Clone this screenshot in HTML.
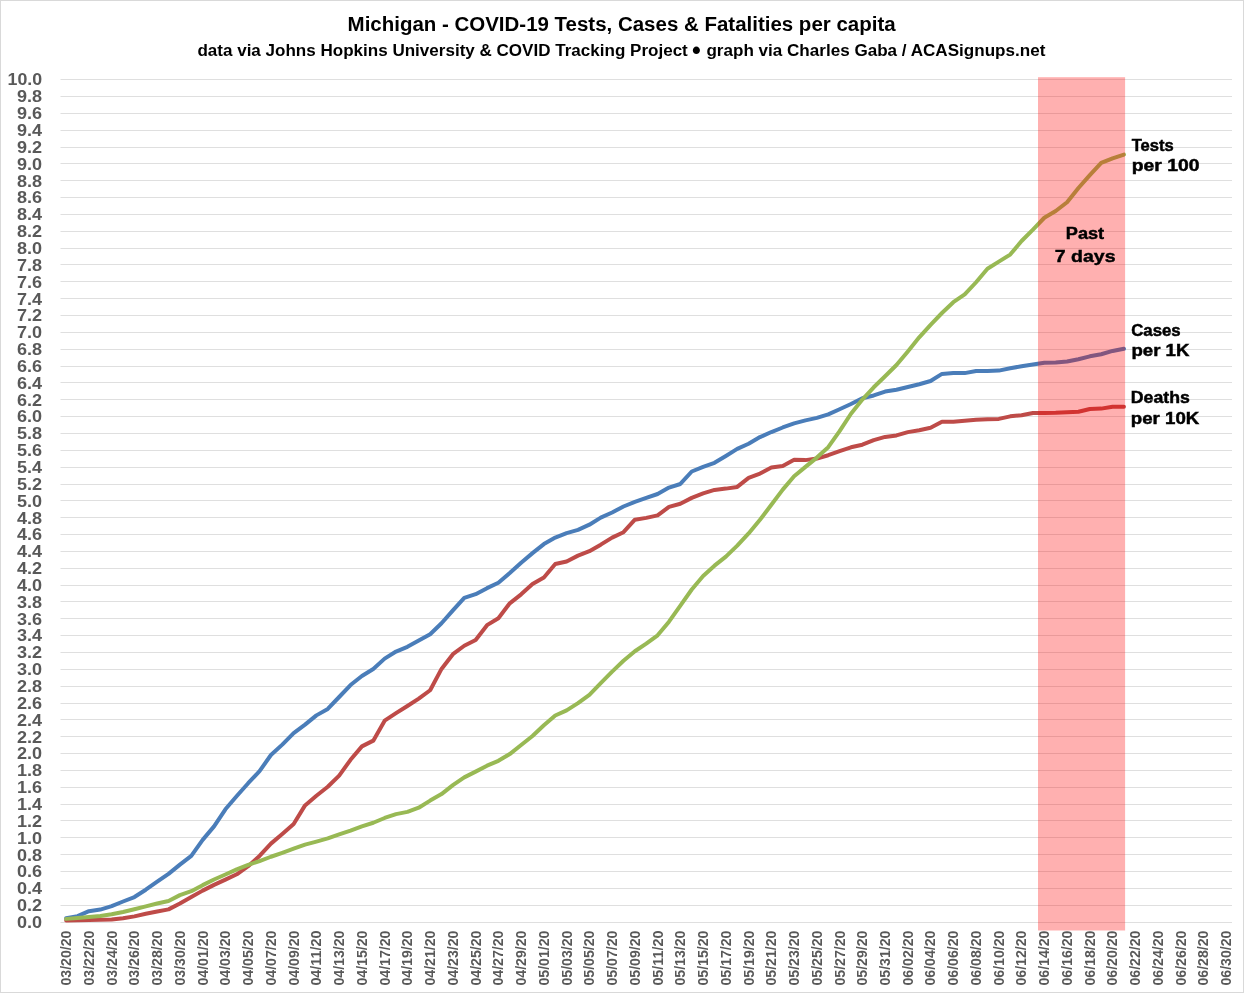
<!DOCTYPE html>
<html lang="en"><head><meta charset="utf-8">
<title>Michigan - COVID-19 Tests, Cases &amp; Fatalities per capita</title>
<style>
html,body{margin:0;padding:0;background:#fff;}
body{width:1244px;height:993px;overflow:hidden;}
svg{display:block;}
text{font-family:"Liberation Sans", sans-serif;font-weight:bold;}
.ax{fill:#595959;}
.grid line{stroke:#dfdfdf;stroke-width:1;}
.ser{fill:none;stroke-width:4.0;stroke-linejoin:round;stroke-linecap:round;}
.lbl{fill:#000;}
.hv{stroke:#000;stroke-width:0.45;}
</style></head><body>
<svg width="1244" height="993" viewBox="0 0 1244 993">
<rect x="0" y="0" width="1244" height="993" fill="#ffffff"/>
<rect x="0.5" y="0.5" width="1243" height="992" fill="none" stroke="#d9d9d9" stroke-width="1"/>
<text class="lbl" x="347.6" y="31.2" font-size="19.6" text-anchor="start" textLength="548.0" lengthAdjust="spacingAndGlyphs">Michigan - COVID-19 Tests, Cases &amp; Fatalities per capita</text>
<text class="lbl" x="197.4" y="55.5" font-size="17.4" text-anchor="start" textLength="490.4" lengthAdjust="spacingAndGlyphs">data via Johns Hopkins University &amp; COVID Tracking Project</text>
<text class="lbl" x="696.5" y="58.6" font-size="25" text-anchor="middle">•</text>
<text class="lbl" x="706.4" y="55.5" font-size="17.4" text-anchor="start" textLength="339.0" lengthAdjust="spacingAndGlyphs">graph via Charles Gaba / ACASignups.net</text>
<g class="grid">
<line x1="60.5" x2="1232.0" y1="922.5" y2="922.5"/>
<line x1="60.5" x2="1232.0" y1="905.5" y2="905.5"/>
<line x1="60.5" x2="1232.0" y1="888.5" y2="888.5"/>
<line x1="60.5" x2="1232.0" y1="871.5" y2="871.5"/>
<line x1="60.5" x2="1232.0" y1="854.5" y2="854.5"/>
<line x1="60.5" x2="1232.0" y1="837.5" y2="837.5"/>
<line x1="60.5" x2="1232.0" y1="820.5" y2="820.5"/>
<line x1="60.5" x2="1232.0" y1="804.5" y2="804.5"/>
<line x1="60.5" x2="1232.0" y1="787.5" y2="787.5"/>
<line x1="60.5" x2="1232.0" y1="770.5" y2="770.5"/>
<line x1="60.5" x2="1232.0" y1="753.5" y2="753.5"/>
<line x1="60.5" x2="1232.0" y1="736.5" y2="736.5"/>
<line x1="60.5" x2="1232.0" y1="719.5" y2="719.5"/>
<line x1="60.5" x2="1232.0" y1="703.5" y2="703.5"/>
<line x1="60.5" x2="1232.0" y1="686.5" y2="686.5"/>
<line x1="60.5" x2="1232.0" y1="669.5" y2="669.5"/>
<line x1="60.5" x2="1232.0" y1="652.5" y2="652.5"/>
<line x1="60.5" x2="1232.0" y1="635.5" y2="635.5"/>
<line x1="60.5" x2="1232.0" y1="618.5" y2="618.5"/>
<line x1="60.5" x2="1232.0" y1="601.5" y2="601.5"/>
<line x1="60.5" x2="1232.0" y1="585.5" y2="585.5"/>
<line x1="60.5" x2="1232.0" y1="568.5" y2="568.5"/>
<line x1="60.5" x2="1232.0" y1="551.5" y2="551.5"/>
<line x1="60.5" x2="1232.0" y1="534.5" y2="534.5"/>
<line x1="60.5" x2="1232.0" y1="517.5" y2="517.5"/>
<line x1="60.5" x2="1232.0" y1="500.5" y2="500.5"/>
<line x1="60.5" x2="1232.0" y1="484.5" y2="484.5"/>
<line x1="60.5" x2="1232.0" y1="467.5" y2="467.5"/>
<line x1="60.5" x2="1232.0" y1="450.5" y2="450.5"/>
<line x1="60.5" x2="1232.0" y1="433.5" y2="433.5"/>
<line x1="60.5" x2="1232.0" y1="416.5" y2="416.5"/>
<line x1="60.5" x2="1232.0" y1="399.5" y2="399.5"/>
<line x1="60.5" x2="1232.0" y1="382.5" y2="382.5"/>
<line x1="60.5" x2="1232.0" y1="366.5" y2="366.5"/>
<line x1="60.5" x2="1232.0" y1="349.5" y2="349.5"/>
<line x1="60.5" x2="1232.0" y1="332.5" y2="332.5"/>
<line x1="60.5" x2="1232.0" y1="315.5" y2="315.5"/>
<line x1="60.5" x2="1232.0" y1="298.5" y2="298.5"/>
<line x1="60.5" x2="1232.0" y1="281.5" y2="281.5"/>
<line x1="60.5" x2="1232.0" y1="264.5" y2="264.5"/>
<line x1="60.5" x2="1232.0" y1="248.5" y2="248.5"/>
<line x1="60.5" x2="1232.0" y1="231.5" y2="231.5"/>
<line x1="60.5" x2="1232.0" y1="214.5" y2="214.5"/>
<line x1="60.5" x2="1232.0" y1="197.5" y2="197.5"/>
<line x1="60.5" x2="1232.0" y1="180.5" y2="180.5"/>
<line x1="60.5" x2="1232.0" y1="163.5" y2="163.5"/>
<line x1="60.5" x2="1232.0" y1="147.5" y2="147.5"/>
<line x1="60.5" x2="1232.0" y1="130.5" y2="130.5"/>
<line x1="60.5" x2="1232.0" y1="113.5" y2="113.5"/>
<line x1="60.5" x2="1232.0" y1="96.5" y2="96.5"/>
<line x1="60.5" x2="1232.0" y1="79.5" y2="79.5"/>
</g>
<g class="ylab">
<text class="ax" x="42.1" y="927.8" font-size="17.1" text-anchor="end" textLength="25.1" lengthAdjust="spacingAndGlyphs">0.0</text>
<text class="ax" x="42.1" y="911.0" font-size="17.1" text-anchor="end" textLength="25.1" lengthAdjust="spacingAndGlyphs">0.2</text>
<text class="ax" x="42.1" y="894.2" font-size="17.1" text-anchor="end" textLength="25.1" lengthAdjust="spacingAndGlyphs">0.4</text>
<text class="ax" x="42.1" y="877.3" font-size="17.1" text-anchor="end" textLength="25.1" lengthAdjust="spacingAndGlyphs">0.6</text>
<text class="ax" x="42.1" y="860.5" font-size="17.1" text-anchor="end" textLength="25.1" lengthAdjust="spacingAndGlyphs">0.8</text>
<text class="ax" x="42.1" y="843.6" font-size="17.1" text-anchor="end" textLength="25.1" lengthAdjust="spacingAndGlyphs">1.0</text>
<text class="ax" x="42.1" y="826.8" font-size="17.1" text-anchor="end" textLength="25.1" lengthAdjust="spacingAndGlyphs">1.2</text>
<text class="ax" x="42.1" y="809.9" font-size="17.1" text-anchor="end" textLength="25.1" lengthAdjust="spacingAndGlyphs">1.4</text>
<text class="ax" x="42.1" y="793.1" font-size="17.1" text-anchor="end" textLength="25.1" lengthAdjust="spacingAndGlyphs">1.6</text>
<text class="ax" x="42.1" y="776.2" font-size="17.1" text-anchor="end" textLength="25.1" lengthAdjust="spacingAndGlyphs">1.8</text>
<text class="ax" x="42.1" y="759.4" font-size="17.1" text-anchor="end" textLength="25.1" lengthAdjust="spacingAndGlyphs">2.0</text>
<text class="ax" x="42.1" y="742.5" font-size="17.1" text-anchor="end" textLength="25.1" lengthAdjust="spacingAndGlyphs">2.2</text>
<text class="ax" x="42.1" y="725.7" font-size="17.1" text-anchor="end" textLength="25.1" lengthAdjust="spacingAndGlyphs">2.4</text>
<text class="ax" x="42.1" y="708.8" font-size="17.1" text-anchor="end" textLength="25.1" lengthAdjust="spacingAndGlyphs">2.6</text>
<text class="ax" x="42.1" y="692.0" font-size="17.1" text-anchor="end" textLength="25.1" lengthAdjust="spacingAndGlyphs">2.8</text>
<text class="ax" x="42.1" y="675.1" font-size="17.1" text-anchor="end" textLength="25.1" lengthAdjust="spacingAndGlyphs">3.0</text>
<text class="ax" x="42.1" y="658.3" font-size="17.1" text-anchor="end" textLength="25.1" lengthAdjust="spacingAndGlyphs">3.2</text>
<text class="ax" x="42.1" y="641.4" font-size="17.1" text-anchor="end" textLength="25.1" lengthAdjust="spacingAndGlyphs">3.4</text>
<text class="ax" x="42.1" y="624.6" font-size="17.1" text-anchor="end" textLength="25.1" lengthAdjust="spacingAndGlyphs">3.6</text>
<text class="ax" x="42.1" y="607.7" font-size="17.1" text-anchor="end" textLength="25.1" lengthAdjust="spacingAndGlyphs">3.8</text>
<text class="ax" x="42.1" y="590.9" font-size="17.1" text-anchor="end" textLength="25.1" lengthAdjust="spacingAndGlyphs">4.0</text>
<text class="ax" x="42.1" y="574.0" font-size="17.1" text-anchor="end" textLength="25.1" lengthAdjust="spacingAndGlyphs">4.2</text>
<text class="ax" x="42.1" y="557.2" font-size="17.1" text-anchor="end" textLength="25.1" lengthAdjust="spacingAndGlyphs">4.4</text>
<text class="ax" x="42.1" y="540.3" font-size="17.1" text-anchor="end" textLength="25.1" lengthAdjust="spacingAndGlyphs">4.6</text>
<text class="ax" x="42.1" y="523.5" font-size="17.1" text-anchor="end" textLength="25.1" lengthAdjust="spacingAndGlyphs">4.8</text>
<text class="ax" x="42.1" y="506.6" font-size="17.1" text-anchor="end" textLength="25.1" lengthAdjust="spacingAndGlyphs">5.0</text>
<text class="ax" x="42.1" y="489.8" font-size="17.1" text-anchor="end" textLength="25.1" lengthAdjust="spacingAndGlyphs">5.2</text>
<text class="ax" x="42.1" y="473.0" font-size="17.1" text-anchor="end" textLength="25.1" lengthAdjust="spacingAndGlyphs">5.4</text>
<text class="ax" x="42.1" y="456.1" font-size="17.1" text-anchor="end" textLength="25.1" lengthAdjust="spacingAndGlyphs">5.6</text>
<text class="ax" x="42.1" y="439.3" font-size="17.1" text-anchor="end" textLength="25.1" lengthAdjust="spacingAndGlyphs">5.8</text>
<text class="ax" x="42.1" y="422.4" font-size="17.1" text-anchor="end" textLength="25.1" lengthAdjust="spacingAndGlyphs">6.0</text>
<text class="ax" x="42.1" y="405.6" font-size="17.1" text-anchor="end" textLength="25.1" lengthAdjust="spacingAndGlyphs">6.2</text>
<text class="ax" x="42.1" y="388.7" font-size="17.1" text-anchor="end" textLength="25.1" lengthAdjust="spacingAndGlyphs">6.4</text>
<text class="ax" x="42.1" y="371.9" font-size="17.1" text-anchor="end" textLength="25.1" lengthAdjust="spacingAndGlyphs">6.6</text>
<text class="ax" x="42.1" y="355.0" font-size="17.1" text-anchor="end" textLength="25.1" lengthAdjust="spacingAndGlyphs">6.8</text>
<text class="ax" x="42.1" y="338.2" font-size="17.1" text-anchor="end" textLength="25.1" lengthAdjust="spacingAndGlyphs">7.0</text>
<text class="ax" x="42.1" y="321.3" font-size="17.1" text-anchor="end" textLength="25.1" lengthAdjust="spacingAndGlyphs">7.2</text>
<text class="ax" x="42.1" y="304.5" font-size="17.1" text-anchor="end" textLength="25.1" lengthAdjust="spacingAndGlyphs">7.4</text>
<text class="ax" x="42.1" y="287.6" font-size="17.1" text-anchor="end" textLength="25.1" lengthAdjust="spacingAndGlyphs">7.6</text>
<text class="ax" x="42.1" y="270.8" font-size="17.1" text-anchor="end" textLength="25.1" lengthAdjust="spacingAndGlyphs">7.8</text>
<text class="ax" x="42.1" y="253.9" font-size="17.1" text-anchor="end" textLength="25.1" lengthAdjust="spacingAndGlyphs">8.0</text>
<text class="ax" x="42.1" y="237.1" font-size="17.1" text-anchor="end" textLength="25.1" lengthAdjust="spacingAndGlyphs">8.2</text>
<text class="ax" x="42.1" y="220.2" font-size="17.1" text-anchor="end" textLength="25.1" lengthAdjust="spacingAndGlyphs">8.4</text>
<text class="ax" x="42.1" y="203.4" font-size="17.1" text-anchor="end" textLength="25.1" lengthAdjust="spacingAndGlyphs">8.6</text>
<text class="ax" x="42.1" y="186.5" font-size="17.1" text-anchor="end" textLength="25.1" lengthAdjust="spacingAndGlyphs">8.8</text>
<text class="ax" x="42.1" y="169.7" font-size="17.1" text-anchor="end" textLength="25.1" lengthAdjust="spacingAndGlyphs">9.0</text>
<text class="ax" x="42.1" y="152.8" font-size="17.1" text-anchor="end" textLength="25.1" lengthAdjust="spacingAndGlyphs">9.2</text>
<text class="ax" x="42.1" y="136.0" font-size="17.1" text-anchor="end" textLength="25.1" lengthAdjust="spacingAndGlyphs">9.4</text>
<text class="ax" x="42.1" y="119.1" font-size="17.1" text-anchor="end" textLength="25.1" lengthAdjust="spacingAndGlyphs">9.6</text>
<text class="ax" x="42.1" y="102.3" font-size="17.1" text-anchor="end" textLength="25.1" lengthAdjust="spacingAndGlyphs">9.8</text>
<text class="ax" x="42.1" y="85.4" font-size="17.1" text-anchor="end" textLength="34.6" lengthAdjust="spacingAndGlyphs">10.0</text>
</g>
<g class="xlab">
<text class="ax" font-size="13.9" text-anchor="end" textLength="55.0" lengthAdjust="spacingAndGlyphs" transform="translate(71.09,930.6) rotate(-90)">03/20/20</text>
<text class="ax" font-size="13.9" text-anchor="end" textLength="55.0" lengthAdjust="spacingAndGlyphs" transform="translate(93.83,930.6) rotate(-90)">03/22/20</text>
<text class="ax" font-size="13.9" text-anchor="end" textLength="55.0" lengthAdjust="spacingAndGlyphs" transform="translate(116.58,930.6) rotate(-90)">03/24/20</text>
<text class="ax" font-size="13.9" text-anchor="end" textLength="55.0" lengthAdjust="spacingAndGlyphs" transform="translate(139.33,930.6) rotate(-90)">03/26/20</text>
<text class="ax" font-size="13.9" text-anchor="end" textLength="55.0" lengthAdjust="spacingAndGlyphs" transform="translate(162.08,930.6) rotate(-90)">03/28/20</text>
<text class="ax" font-size="13.9" text-anchor="end" textLength="55.0" lengthAdjust="spacingAndGlyphs" transform="translate(184.82,930.6) rotate(-90)">03/30/20</text>
<text class="ax" font-size="13.9" text-anchor="end" textLength="55.0" lengthAdjust="spacingAndGlyphs" transform="translate(207.57,930.6) rotate(-90)">04/01/20</text>
<text class="ax" font-size="13.9" text-anchor="end" textLength="55.0" lengthAdjust="spacingAndGlyphs" transform="translate(230.32,930.6) rotate(-90)">04/03/20</text>
<text class="ax" font-size="13.9" text-anchor="end" textLength="55.0" lengthAdjust="spacingAndGlyphs" transform="translate(253.07,930.6) rotate(-90)">04/05/20</text>
<text class="ax" font-size="13.9" text-anchor="end" textLength="55.0" lengthAdjust="spacingAndGlyphs" transform="translate(275.82,930.6) rotate(-90)">04/07/20</text>
<text class="ax" font-size="13.9" text-anchor="end" textLength="55.0" lengthAdjust="spacingAndGlyphs" transform="translate(298.56,930.6) rotate(-90)">04/09/20</text>
<text class="ax" font-size="13.9" text-anchor="end" textLength="55.0" lengthAdjust="spacingAndGlyphs" transform="translate(321.31,930.6) rotate(-90)">04/11/20</text>
<text class="ax" font-size="13.9" text-anchor="end" textLength="55.0" lengthAdjust="spacingAndGlyphs" transform="translate(344.06,930.6) rotate(-90)">04/13/20</text>
<text class="ax" font-size="13.9" text-anchor="end" textLength="55.0" lengthAdjust="spacingAndGlyphs" transform="translate(366.81,930.6) rotate(-90)">04/15/20</text>
<text class="ax" font-size="13.9" text-anchor="end" textLength="55.0" lengthAdjust="spacingAndGlyphs" transform="translate(389.55,930.6) rotate(-90)">04/17/20</text>
<text class="ax" font-size="13.9" text-anchor="end" textLength="55.0" lengthAdjust="spacingAndGlyphs" transform="translate(412.30,930.6) rotate(-90)">04/19/20</text>
<text class="ax" font-size="13.9" text-anchor="end" textLength="55.0" lengthAdjust="spacingAndGlyphs" transform="translate(435.05,930.6) rotate(-90)">04/21/20</text>
<text class="ax" font-size="13.9" text-anchor="end" textLength="55.0" lengthAdjust="spacingAndGlyphs" transform="translate(457.80,930.6) rotate(-90)">04/23/20</text>
<text class="ax" font-size="13.9" text-anchor="end" textLength="55.0" lengthAdjust="spacingAndGlyphs" transform="translate(480.54,930.6) rotate(-90)">04/25/20</text>
<text class="ax" font-size="13.9" text-anchor="end" textLength="55.0" lengthAdjust="spacingAndGlyphs" transform="translate(503.29,930.6) rotate(-90)">04/27/20</text>
<text class="ax" font-size="13.9" text-anchor="end" textLength="55.0" lengthAdjust="spacingAndGlyphs" transform="translate(526.04,930.6) rotate(-90)">04/29/20</text>
<text class="ax" font-size="13.9" text-anchor="end" textLength="55.0" lengthAdjust="spacingAndGlyphs" transform="translate(548.79,930.6) rotate(-90)">05/01/20</text>
<text class="ax" font-size="13.9" text-anchor="end" textLength="55.0" lengthAdjust="spacingAndGlyphs" transform="translate(571.53,930.6) rotate(-90)">05/03/20</text>
<text class="ax" font-size="13.9" text-anchor="end" textLength="55.0" lengthAdjust="spacingAndGlyphs" transform="translate(594.28,930.6) rotate(-90)">05/05/20</text>
<text class="ax" font-size="13.9" text-anchor="end" textLength="55.0" lengthAdjust="spacingAndGlyphs" transform="translate(617.03,930.6) rotate(-90)">05/07/20</text>
<text class="ax" font-size="13.9" text-anchor="end" textLength="55.0" lengthAdjust="spacingAndGlyphs" transform="translate(639.78,930.6) rotate(-90)">05/09/20</text>
<text class="ax" font-size="13.9" text-anchor="end" textLength="55.0" lengthAdjust="spacingAndGlyphs" transform="translate(662.52,930.6) rotate(-90)">05/11/20</text>
<text class="ax" font-size="13.9" text-anchor="end" textLength="55.0" lengthAdjust="spacingAndGlyphs" transform="translate(685.27,930.6) rotate(-90)">05/13/20</text>
<text class="ax" font-size="13.9" text-anchor="end" textLength="55.0" lengthAdjust="spacingAndGlyphs" transform="translate(708.02,930.6) rotate(-90)">05/15/20</text>
<text class="ax" font-size="13.9" text-anchor="end" textLength="55.0" lengthAdjust="spacingAndGlyphs" transform="translate(730.77,930.6) rotate(-90)">05/17/20</text>
<text class="ax" font-size="13.9" text-anchor="end" textLength="55.0" lengthAdjust="spacingAndGlyphs" transform="translate(753.51,930.6) rotate(-90)">05/19/20</text>
<text class="ax" font-size="13.9" text-anchor="end" textLength="55.0" lengthAdjust="spacingAndGlyphs" transform="translate(776.26,930.6) rotate(-90)">05/21/20</text>
<text class="ax" font-size="13.9" text-anchor="end" textLength="55.0" lengthAdjust="spacingAndGlyphs" transform="translate(799.01,930.6) rotate(-90)">05/23/20</text>
<text class="ax" font-size="13.9" text-anchor="end" textLength="55.0" lengthAdjust="spacingAndGlyphs" transform="translate(821.76,930.6) rotate(-90)">05/25/20</text>
<text class="ax" font-size="13.9" text-anchor="end" textLength="55.0" lengthAdjust="spacingAndGlyphs" transform="translate(844.50,930.6) rotate(-90)">05/27/20</text>
<text class="ax" font-size="13.9" text-anchor="end" textLength="55.0" lengthAdjust="spacingAndGlyphs" transform="translate(867.25,930.6) rotate(-90)">05/29/20</text>
<text class="ax" font-size="13.9" text-anchor="end" textLength="55.0" lengthAdjust="spacingAndGlyphs" transform="translate(890.00,930.6) rotate(-90)">05/31/20</text>
<text class="ax" font-size="13.9" text-anchor="end" textLength="55.0" lengthAdjust="spacingAndGlyphs" transform="translate(912.75,930.6) rotate(-90)">06/02/20</text>
<text class="ax" font-size="13.9" text-anchor="end" textLength="55.0" lengthAdjust="spacingAndGlyphs" transform="translate(935.49,930.6) rotate(-90)">06/04/20</text>
<text class="ax" font-size="13.9" text-anchor="end" textLength="55.0" lengthAdjust="spacingAndGlyphs" transform="translate(958.24,930.6) rotate(-90)">06/06/20</text>
<text class="ax" font-size="13.9" text-anchor="end" textLength="55.0" lengthAdjust="spacingAndGlyphs" transform="translate(980.99,930.6) rotate(-90)">06/08/20</text>
<text class="ax" font-size="13.9" text-anchor="end" textLength="55.0" lengthAdjust="spacingAndGlyphs" transform="translate(1003.74,930.6) rotate(-90)">06/10/20</text>
<text class="ax" font-size="13.9" text-anchor="end" textLength="55.0" lengthAdjust="spacingAndGlyphs" transform="translate(1026.48,930.6) rotate(-90)">06/12/20</text>
<text class="ax" font-size="13.9" text-anchor="end" textLength="55.0" lengthAdjust="spacingAndGlyphs" transform="translate(1049.23,930.6) rotate(-90)">06/14/20</text>
<text class="ax" font-size="13.9" text-anchor="end" textLength="55.0" lengthAdjust="spacingAndGlyphs" transform="translate(1071.98,930.6) rotate(-90)">06/16/20</text>
<text class="ax" font-size="13.9" text-anchor="end" textLength="55.0" lengthAdjust="spacingAndGlyphs" transform="translate(1094.73,930.6) rotate(-90)">06/18/20</text>
<text class="ax" font-size="13.9" text-anchor="end" textLength="55.0" lengthAdjust="spacingAndGlyphs" transform="translate(1117.48,930.6) rotate(-90)">06/20/20</text>
<text class="ax" font-size="13.9" text-anchor="end" textLength="55.0" lengthAdjust="spacingAndGlyphs" transform="translate(1140.22,930.6) rotate(-90)">06/22/20</text>
<text class="ax" font-size="13.9" text-anchor="end" textLength="55.0" lengthAdjust="spacingAndGlyphs" transform="translate(1162.97,930.6) rotate(-90)">06/24/20</text>
<text class="ax" font-size="13.9" text-anchor="end" textLength="55.0" lengthAdjust="spacingAndGlyphs" transform="translate(1185.72,930.6) rotate(-90)">06/26/20</text>
<text class="ax" font-size="13.9" text-anchor="end" textLength="55.0" lengthAdjust="spacingAndGlyphs" transform="translate(1208.47,930.6) rotate(-90)">06/28/20</text>
<text class="ax" font-size="13.9" text-anchor="end" textLength="55.0" lengthAdjust="spacingAndGlyphs" transform="translate(1231.21,930.6) rotate(-90)">06/30/20</text>
</g>
<g>
<polyline class="ser" stroke="#4a7db9" points="66.19,918.28 77.56,916.09 88.93,911.20 100.31,909.60 111.68,906.06 123.06,901.51 134.43,897.04 145.80,889.71 157.18,881.61 168.55,873.86 179.92,864.59 191.30,855.90 202.67,839.89 214.05,826.40 225.42,809.29 236.79,796.05 248.17,783.24 259.54,771.18 270.92,755.00 282.29,744.63 293.66,733.08 305.04,724.65 316.41,715.37 327.78,708.97 339.16,697.00 350.53,685.03 361.91,676.01 373.28,668.93 384.65,658.64 396.03,651.56 407.40,646.84 418.77,640.60 430.15,634.19 441.52,623.24 452.90,610.34 464.27,597.86 475.64,594.15 487.02,588.17 498.39,582.77 509.76,573.08 521.14,562.71 532.51,553.10 543.89,544.08 555.26,537.59 566.63,533.12 578.01,529.91 589.38,524.69 600.75,517.61 612.13,512.46 623.50,506.48 634.88,501.84 646.25,497.88 657.62,494.00 669.00,487.60 680.37,483.97 691.75,471.50 703.12,466.94 714.49,462.81 725.87,455.98 737.24,448.90 748.61,443.76 759.99,437.10 771.36,432.04 782.74,427.49 794.11,423.44 805.48,420.41 816.86,417.88 828.23,414.34 839.60,409.20 850.98,404.05 862.35,398.24 873.73,395.46 885.10,391.58 896.47,389.72 907.85,387.03 919.22,384.24 930.59,380.96 941.97,373.88 953.34,373.12 964.72,373.12 976.09,370.93 987.46,370.93 998.84,370.59 1010.21,368.23 1021.58,366.29 1032.96,364.52 1044.33,362.75 1055.71,362.58 1067.08,361.57 1078.45,359.21 1089.83,356.34 1101.20,354.23 1112.58,350.95 1123.95,348.67"/>
<polyline class="ser" stroke="#be4b48" points="66.19,920.56 77.56,920.31 88.93,920.06 100.31,919.72 111.68,919.55 123.06,918.28 134.43,916.35 145.80,913.73 157.18,911.46 168.55,909.35 179.92,903.45 191.30,897.04 202.67,890.63 214.05,884.90 225.42,879.68 236.79,874.28 248.17,866.19 259.54,855.90 270.92,843.60 282.29,833.99 293.66,824.04 305.04,805.41 316.41,795.71 327.78,786.78 339.16,775.65 350.53,759.80 361.91,746.40 373.28,740.66 384.65,720.69 396.03,713.18 407.40,706.02 418.77,698.60 430.15,690.25 441.52,668.93 452.90,654.17 464.27,645.74 475.64,639.93 487.02,625.17 498.39,618.18 509.76,603.34 521.14,594.32 532.51,584.04 543.89,577.54 555.26,564.06 566.63,561.44 578.01,555.63 589.38,551.16 600.75,544.67 612.13,537.59 623.50,532.19 634.88,519.71 646.25,517.86 657.62,515.33 669.00,506.90 680.37,503.70 691.75,497.88 703.12,493.41 714.49,489.96 725.87,488.61 737.24,486.92 748.61,477.90 759.99,473.60 771.36,467.45 782.74,465.93 794.11,459.86 805.48,460.11 816.86,458.60 828.23,455.23 839.60,451.09 850.98,447.30 862.35,444.69 873.73,440.14 885.10,436.93 896.47,435.41 907.85,432.13 919.22,430.19 930.59,427.83 941.97,421.76 953.34,421.76 964.72,420.75 976.09,419.82 987.46,419.14 998.84,418.89 1010.21,416.36 1021.58,415.27 1032.96,412.99 1044.33,412.91 1055.71,412.82 1067.08,412.23 1078.45,411.81 1089.83,408.94 1101.20,408.61 1112.58,406.67 1123.95,406.67"/>
<polyline class="ser" stroke="#98b954" points="66.19,918.88 77.56,918.03 88.93,917.10 100.31,915.92 111.68,914.24 123.06,911.96 134.43,909.26 145.80,906.40 157.18,903.45 168.55,901.00 179.92,895.10 191.30,891.22 202.67,885.16 214.05,879.51 225.42,874.53 236.79,869.39 248.17,864.92 259.54,861.05 270.92,856.75 282.29,852.87 293.66,848.74 305.04,844.61 316.41,841.66 327.78,838.45 339.16,834.41 350.53,830.61 361.91,826.31 373.28,822.77 384.65,817.97 396.03,814.09 407.40,811.90 418.77,807.68 430.15,800.60 441.52,794.11 452.90,785.09 464.27,777.34 475.64,771.60 487.02,765.70 498.39,760.81 509.76,754.07 521.14,745.05 532.51,736.03 543.89,725.32 555.26,715.46 566.63,710.32 578.01,703.15 589.38,694.81 600.75,683.17 612.13,671.62 623.50,660.75 634.88,651.22 646.25,643.64 657.62,635.29 669.00,621.72 680.37,605.62 691.75,589.51 703.12,575.94 714.49,565.66 725.87,556.64 737.24,545.68 748.61,533.46 759.99,519.80 771.36,504.79 782.74,489.62 794.11,476.22 805.48,466.86 816.86,457.59 828.23,447.22 839.60,431.12 850.98,413.75 862.35,399.59 873.73,387.28 885.10,376.24 896.47,365.02 907.85,351.45 919.22,337.29 930.59,324.81 941.97,313.01 953.34,302.22 964.72,294.47 976.09,282.24 987.46,268.75 998.84,261.67 1010.21,254.59 1021.58,241.02 1032.96,229.55 1044.33,217.75 1055.71,211.01 1067.08,202.24 1078.45,187.99 1089.83,175.18 1101.20,162.96 1112.58,158.40 1123.95,154.53"/>
</g>
<rect x="1038" y="77.2" width="87.1" height="853.3" fill="#ff0000" fill-opacity="0.31"/>
<text class="lbl hv" x="1131.7" y="150.5" font-size="15.8" text-anchor="start" textLength="42.0" lengthAdjust="spacingAndGlyphs">Tests</text>
<text class="lbl hv" x="1131.7" y="170.9" font-size="15.8" text-anchor="start" textLength="67.7" lengthAdjust="spacingAndGlyphs">per 100</text>
<text class="lbl hv" x="1131.2" y="335.5" font-size="15.8" text-anchor="start" textLength="49.5" lengthAdjust="spacingAndGlyphs">Cases</text>
<text class="lbl hv" x="1131.4" y="356.4" font-size="15.8" text-anchor="start" textLength="58.0" lengthAdjust="spacingAndGlyphs">per 1K</text>
<text class="lbl hv" x="1130.8" y="402.8" font-size="15.8" text-anchor="start" textLength="59.0" lengthAdjust="spacingAndGlyphs">Deaths</text>
<text class="lbl hv" x="1130.8" y="424.4" font-size="15.8" text-anchor="start" textLength="68.5" lengthAdjust="spacingAndGlyphs">per 10K</text>
<text class="lbl hv" x="1085.0" y="238.6" font-size="17.4" text-anchor="middle" textLength="38.3" lengthAdjust="spacingAndGlyphs">Past</text>
<text class="lbl hv" x="1085.2" y="262.3" font-size="17.4" text-anchor="middle" textLength="60.7" lengthAdjust="spacingAndGlyphs">7 days</text>
</svg></body></html>
